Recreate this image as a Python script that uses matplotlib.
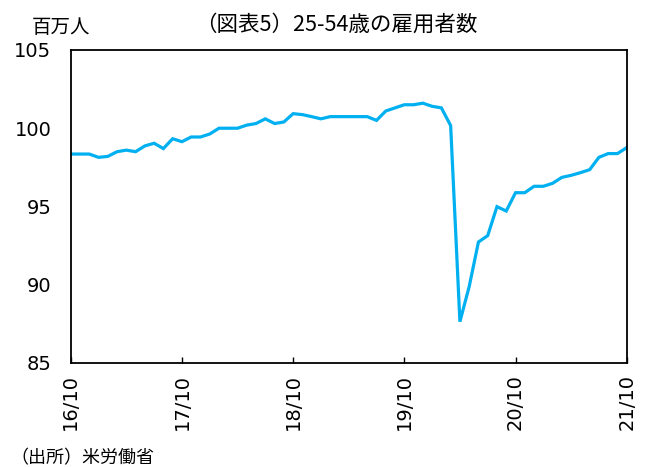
import matplotlib
matplotlib.use("Agg")
import matplotlib.pyplot as plt
import numpy as np

# Monthly employment, ages 25-54 (millions), 2016/10 - 2021/10
values = [98.35, 98.35, 98.35, 98.14, 98.2, 98.5, 98.6, 98.5, 98.87, 99.04,
          98.7, 99.33, 99.14, 99.44, 99.44, 99.63, 100.0, 100.0, 100.0, 100.2,
          100.3, 100.6, 100.3, 100.4, 100.93, 100.87, 100.74, 100.6, 100.74, 100.74,
          100.74, 100.74, 100.74, 100.5, 101.1, 101.3, 101.5, 101.5, 101.6, 101.4,
          101.3, 100.17, 87.64, 89.88, 92.73, 93.14, 94.99, 94.71, 95.88, 95.88,
          96.29, 96.29, 96.48, 96.86, 96.99, 97.16, 97.35, 98.14, 98.38, 98.38,
          98.76]
tick_labels = ["16/10", "17/10", "18/10", "19/10", "20/10", "21/10"]
y_ticks = [85, 90, 95, 100, 105]

jp = ["Noto Sans CJK JP", "DejaVu Sans"]

fig = plt.figure(figsize=(6.59, 4.67), dpi=100)
ax = fig.add_axes([0.1073, 0.2227, 0.951 - 0.1073, 0.893 - 0.2227])

x = np.arange(len(values))
ax.plot(x, values, color="#00B0F0", lw=2.3, solid_joinstyle="miter")

ax.set_xlim(0, len(values) - 1)
ax.set_ylim(85, 105)
ax.set_yticks(y_ticks)
ax.set_yticklabels([str(v) for v in y_ticks], fontsize=14, family="DejaVu Sans")
ax.tick_params(axis="y", length=0, pad=14)
ax.set_xticks(np.arange(0, len(values), 12))
ax.set_xticklabels(tick_labels, rotation=90, fontsize=14, family="DejaVu Sans")
ax.tick_params(axis="x", direction="in", length=4, width=1, pad=8)
for s in ax.spines.values():
    s.set_linewidth(1.3)
    s.set_color("black")

fig.text(0.51, 0.948, "（図表5）25-54歳の雇用者数", ha="center", va="center",
         fontsize=15.5, family=jp)
fig.text(0.092, 0.942, "百万人", ha="center", va="center", fontsize=14, family=jp)
fig.text(0.016, 0.0, "（出所）米労働省", ha="left", va="bottom", fontsize=13, family=jp)

fig.savefig("out.png", dpi=100)
